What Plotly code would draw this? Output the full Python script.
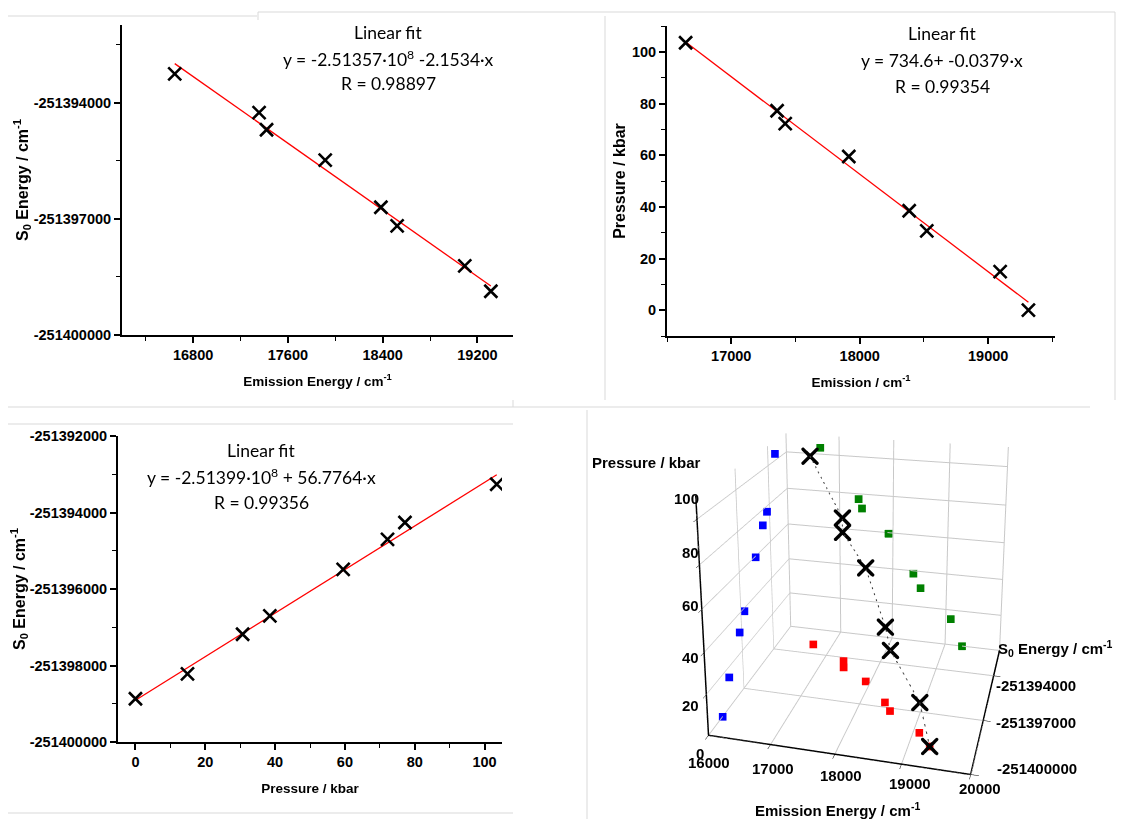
import numpy as np
import plotly.graph_objects as go

# datos
emission = [16645, 17357, 17420, 17915, 18385, 18522, 19093, 19313]
pressure = [103.5, 77.2, 72.2, 59.5, 38.5, 30.7, 14.9, 0.0]
s0_energy = [-251393261, -251394261, -251394704, -251395487,
             -251396704, -251397183, -251398217, -251398870]

fit_texts = [
    ["Linear fit", "y = -2.51357·10<sup>8</sup> -2.1534·x", "R = 0.98897"],
    ["Linear fit", "y = 734.6+ -0.0379·x", "R = 0.99354"],
    ["Linear fit", "y = -2.51399·10<sup>8</sup> + 56.7764·x", "R = 0.99356"],
]

s0_ticks_a = [-251400000, -251397000, -251394000]
s0_ticks_b = [-251400000, -251398000, -251396000, -251394000, -251392000]
s0_ticks_3d = [-251394000, -251397000, -251400000]
em_ticks_3d = [16000, 17000, 18000, 19000, 20000]
p_ticks_3d = [0, 20, 40, 60, 80, 100]
em_range_3d = [16000, 20000]
s0_range_3d = [-251400000, -251392000]
p_range_3d = [0, 110]

W, H = 1138, 819
OFF = 8  # la pagina deja 8 px de margen
FONT = "Liberation Sans, Arial, sans-serif"
tick_font = dict(family=FONT, size=14.5, color="black", weight="bold")
xt_font = dict(family=FONT, size=13.5, color="black", weight="bold")
yt_font = dict(family=FONT, size=16, color="black", weight="bold")


def fit_line(x, y):
    k, b = np.polyfit(x, y, 1)
    xs = np.array([min(x), max(x)])
    return xs, k * xs + b


def minor(**kw):
    d = dict(ticks="outside", ticklen=4, tickwidth=1.3, tickcolor="black", showgrid=False)
    d.update(kw)
    return d


def ax_style(**kw):
    d = dict(showline=True, linecolor="black", linewidth=2, mirror=False,
             ticks="outside", ticklen=6, tickwidth=1.5, tickcolor="black",
             showgrid=False, zeroline=False, tickfont=tick_font,
             automargin=False, tickformat="d")
    d.update(kw)
    return d


def labels(vals):
    return [str(v) for v in vals]


def fx(px):
    return (px - OFF) / W


def fy(py):
    return 1 - (py - OFF) / H


def px_x(a, b):
    return [fx(a), fx(b)]


def px_y(top, bottom):
    return [fy(bottom), fy(top)]


fig = go.Figure()

mk = dict(symbol="x-thin", size=13, line=dict(width=2.6, color="black"), color="black")

pairs = [
    (emission, s0_energy, "x", "y"),
    (emission, pressure, "x2", "y2"),
    (pressure, s0_energy, "x3", "y3"),
]
for xs, ys, xa, ya in pairs:
    lx, ly = fit_line(xs, ys)
    fig.add_trace(go.Scatter(x=lx, y=ly, mode="lines", xaxis=xa, yaxis=ya,
                             line=dict(color="red", width=1.3), showlegend=False))
    fig.add_trace(go.Scatter(x=xs, y=ys, mode="markers", xaxis=xa, yaxis=ya,
                             marker=mk, showlegend=False))

# grafico 3D con proyecciones en las paredes
n = len(emission)
sq = dict(symbol="square", size=4)
fig.add_trace(go.Scatter3d(x=[em_range_3d[0]] * n, y=s0_energy, z=pressure, mode="markers",
                           marker=dict(sq, color="blue"), showlegend=False))
fig.add_trace(go.Scatter3d(x=emission, y=[s0_range_3d[1]] * n, z=pressure, mode="markers",
                           marker=dict(sq, color="green"), showlegend=False))
fig.add_trace(go.Scatter3d(x=emission, y=s0_energy, z=[p_range_3d[0]] * n, mode="markers",
                           marker=dict(sq, color="red"), showlegend=False))
fig.add_trace(go.Scatter3d(x=emission, y=s0_energy, z=pressure, mode="lines+markers",
                           line=dict(color="#444444", width=2, dash="dash"),
                           marker=dict(symbol="x", size=4, color="black"), showlegend=False))

ax3 = dict(showbackground=False, gridcolor="#c8c8c8", showline=True, linecolor="black",
           linewidth=3, ticks="outside", tickcolor="black", ticklen=6,
           showticklabels=False, zeroline=False, showspikes=False, title=dict(text=""))

fig.update_layout(
    width=W, height=H, margin=dict(l=0, r=0, t=0, b=0), autosize=False,
    paper_bgcolor="white", plot_bgcolor="white",
    font=dict(family=FONT, color="black"),
    xaxis=ax_style(domain=px_x(122, 513), range=[16200, 19500], anchor="y",
                   tickvals=[16800, 17600, 18400, 19200],
                   minor=minor(tickvals=[16400, 17200, 18000, 18800]),
                   title=dict(text="Emission Energy / cm<sup>-1</sup>", standoff=14, font=xt_font)),
    yaxis=ax_style(domain=px_y(25, 335), range=[-251400000, -251392000], anchor="x",
                   tickvals=s0_ticks_a, ticktext=labels(s0_ticks_a),
                   minor=minor(tickvals=[-251398500, -251395500, -251392500]),
                   title=dict(text="S<sub>0</sub> Energy / cm<sup>-1</sup>", standoff=1, font=yt_font)),
    xaxis2=ax_style(domain=px_x(667, 1055), range=[16500, 19520], anchor="y2",
                    dtick=1000, tick0=17000, minor=minor(dtick=500, tick0=16500),
                    title=dict(text="Emission / cm<sup>-1</sup>", standoff=14, font=xt_font)),
    yaxis2=ax_style(domain=px_y(26, 336), range=[-10, 110], anchor="x2",
                    dtick=20, tick0=0, minor=minor(dtick=10, tick0=0),
                    title=dict(text="Pressure / kbar", standoff=2, font=yt_font)),
    xaxis3=ax_style(domain=px_x(118, 502), range=[-5, 105], anchor="y3",
                    dtick=20, tick0=0, minor=minor(dtick=10, tick0=0),
                    title=dict(text="Pressure / kbar", standoff=14, font=xt_font)),
    yaxis3=ax_style(domain=px_y(436, 742), range=[-251400000, -251392000], anchor="x3",
                    tickvals=s0_ticks_b, ticktext=labels(s0_ticks_b),
                    minor=minor(dtick=1000, tick0=-251400000),
                    title=dict(text="S<sub>0</sub> Energy / cm<sup>-1</sup>", standoff=1, font=yt_font)),
    scene=dict(
        domain=dict(x=[fx(595), fx(1139)], y=[0.0, 0.9]),
        xaxis=dict(ax3, range=em_range_3d, tickvals=em_ticks_3d),
        yaxis=dict(ax3, range=s0_range_3d, tickvals=s0_ticks_3d),
        zaxis=dict(ax3, range=p_range_3d, tickvals=p_ticks_3d),
        aspectmode="manual", aspectratio=dict(x=1, y=0.96, z=0.955),
        camera=dict(eye=dict(x=0.818, y=-3.226, z=1.431), center=dict(x=0, y=0, z=0.52)),
    ),
)

# textos del ajuste lineal, linea por linea
ann_pos = [(388, [32, 58, 83]), (942, [33, 61, 86]), (261, [450, 476, 502])]
for (cx, ys), lines in zip(ann_pos, fit_texts):
    for cy, txt in zip(ys, lines):
        fig.add_annotation(text=txt, xref="paper", yref="paper", x=fx(cx), y=fy(cy),
                           xanchor="center", yanchor="middle", showarrow=False,
                           font=dict(family="Lato, Open Sans, sans-serif", size=17.5, color="black"))

# titulos y etiquetas del grafico 3D, horizontales como en el original
lab3 = dict(family=FONT, size=15, color="black", weight="bold")
for txt, cx, cy, xa in [("Pressure / kbar", 646, 462, "center"),
                        ("S<sub>0</sub> Energy / cm<sup>-1</sup>", 996, 648, "left"),
                        ("Emission Energy / cm<sup>-1</sup>", 837, 809, "center")]:
    fig.add_annotation(text=txt, xref="paper", yref="paper", x=fx(cx), y=fy(cy),
                       xanchor=xa, yanchor="middle", showarrow=False, font=lab3)

z_lab_pos = [(706, 753), (701, 705), (701, 657), (701, 605), (701, 552), (701, 498)]
for v, (cx, cy) in zip(p_ticks_3d, z_lab_pos):
    fig.add_annotation(text=str(v), xref="paper", yref="paper", x=fx(cx), y=fy(cy),
                       xanchor="right", yanchor="middle", showarrow=False, font=lab3)
x_lab_pos = [(709, 762), (773, 768), (841, 775), (910, 783), (980, 788)]
for v, (cx, cy) in zip(em_ticks_3d, x_lab_pos):
    fig.add_annotation(text=str(v), xref="paper", yref="paper", x=fx(cx), y=fy(cy),
                       xanchor="center", yanchor="middle", showarrow=False, font=lab3)
y_lab_pos = [(994, 685), (994, 722), (995, 768)]
for v, (cx, cy) in zip(s0_ticks_3d, y_lab_pos):
    fig.add_annotation(text=str(v), xref="paper", yref="paper", x=fx(cx), y=fy(cy),
                       xanchor="left", yanchor="middle", showarrow=False, font=lab3)

# bordes grises tenues de los recuadros
gray = dict(color="#d9d9d9", width=1)
for x0, y0, x1, y1 in [(8, 16, 257, 16), (258, 12, 1115, 12), (258, 12, 258, 20),
                       (605, 16, 605, 400), (1115, 12, 1115, 400),
                       (8, 407, 1090, 407), (8, 424, 513, 424), (513, 400, 513, 407),
                       (8, 813, 513, 813), (587, 410, 587, 819)]:
    fig.add_shape(type="line", xref="paper", yref="paper",
                  x0=fx(x0), x1=fx(x1), y0=fy(y0), y1=fy(y1), line=gray)

fig.write_html("out.html")
